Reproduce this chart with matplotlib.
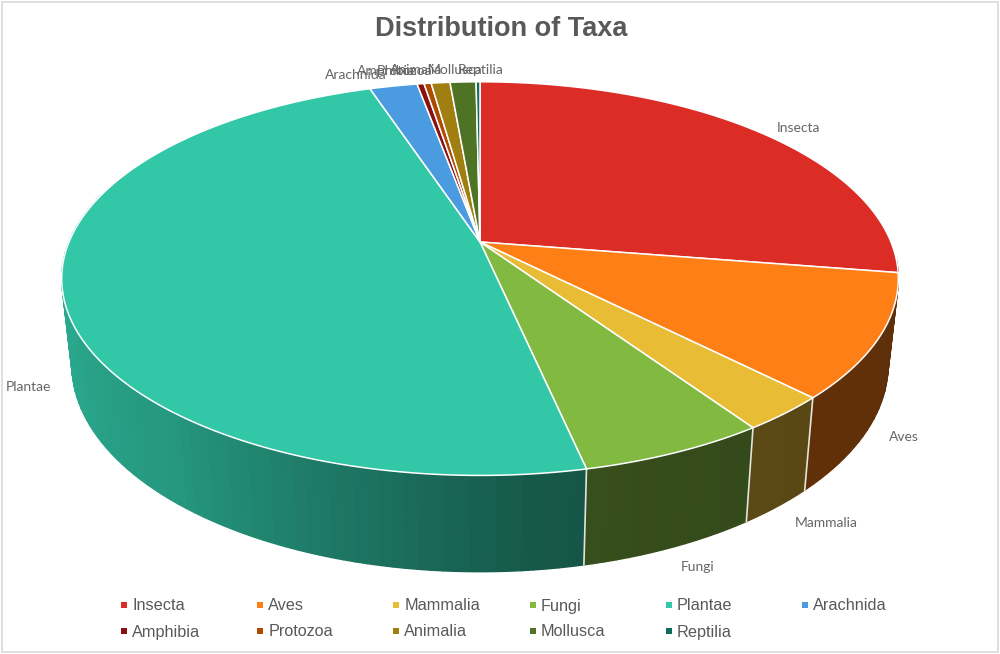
import numpy as np
import matplotlib
matplotlib.use("Agg")
import matplotlib.pyplot as plt
from matplotlib.patches import Rectangle

taxa = ["Insecta", "Aves", "Mammalia", "Fungi", "Plantae", "Arachnida",
        "Amphibia", "Protozoa", "Animalia", "Mollusca", "Reptilia"]
share = [27.5, 10.1, 2.9, 6.1, 48.3, 2.2, 0.32, 0.33, 0.87, 1.2, 0.18]
colors = ["#DC2C26", "#FF7F17", "#E8BC35", "#82BA41", "#31C7A7", "#4A9BE0",
          "#8B1010", "#B04A00", "#A07E10", "#4E7324", "#0E6D5A"]
label_xy = {"Insecta": (798, 127), "Aves": (904, 436), "Mammalia": (826, 522),
            "Fungi": (698, 566), "Plantae": (28, 386), "Arachnida": (356, 74),
            "Amphibia": (386, 70), "Protozoa": (405, 70), "Animalia": (416, 69),
            "Mollusca": (455, 69), "Reptilia": (481, 69)}
text_col = "#595959"


# angle is clockwise from the top of the disc, in degrees
def project(angle, a, b, cy, k=0.186, cx=480):
    t = np.radians(angle)
    u, v = np.sin(t), np.cos(t)
    w = 1 + k * v
    return cx + a * u / w, cy - b * v / w


def top(angle):
    return project(angle, 411, 190, 242)


def bottom(angle):
    return project(angle, 401, 200, 326)


def wall_shade(angle):
    return np.interp(angle, [100, 135, 165, 175, 200, 220, 250, 275],
                     [0.37, 0.38, 0.42, 0.45, 0.62, 0.76, 0.84, 0.85])


def shaded(col, f):
    return np.array(matplotlib.colors.to_rgb(col)) * f


fig = plt.figure(figsize=(10, 6.54), dpi=100)
ax = fig.add_axes([0, 0, 1, 1])
ax.set_xlim(0, 1000)
ax.set_ylim(654, 0)
ax.axis("off")
ax.add_patch(Rectangle((2, 2), 996, 650, fill=False, ec="#D9D9D9", lw=1.2))

edges = 360 * np.concatenate([[0], np.cumsum(share)]) / np.sum(share)

# side wall, only the part facing the viewer
for i in range(len(taxa)):
    a0, a1 = max(edges[i], 95), min(edges[i + 1], 285)
    if a1 <= a0:
        continue
    steps = np.arange(a0, a1 + 1.5, 1.5)
    steps[-1] = a1
    for s0, s1 in zip(steps[:-1], steps[1:]):
        tx0, ty0 = top(np.linspace(s0, s1, 4))
        bx0, by0 = bottom(np.linspace(s1, s0, 4))
        c = shaded(colors[i], wall_shade((s0 + s1) / 2))
        ax.fill(np.r_[tx0, bx0], np.r_[ty0, by0], fc=c, ec=c, lw=1.0, zorder=2)
    if 105 < edges[i + 1] < 250:
        tx, ty = top(edges[i + 1])
        bx, by = bottom(edges[i + 1])
        ax.plot([tx, bx], [ty, by], color="#E4E4DC", lw=1.2, zorder=3)

# top face
for i in range(len(taxa)):
    ang = np.linspace(edges[i], edges[i + 1], max(3, int(edges[i + 1] - edges[i]) * 2))
    x, y = top(ang)
    cx, cy = top(0.0)[0], 242
    ax.fill(np.r_[cx, x], np.r_[cy, y], fc=colors[i], ec="white", lw=1.1,
            joinstyle="round", zorder=4)

ax.text(501, 29, "Distribution of Taxa", ha="center", va="center", fontsize=19.5,
        fontweight="bold", family="Liberation Sans", color=text_col)

for name in taxa:
    lx, ly = label_xy[name]
    ax.text(lx, ly + 1, name, ha="center", va="center", fontsize=10,
            family="Lato", color="#666666", zorder=6)

# legend: two rows of six equal columns
for i, name in enumerate(taxa):
    col, row = i % 6, i // 6
    mx = 124 + col * 136.2
    my = 605 + row * 26
    ax.scatter([mx], [my], marker="s", s=22, color=colors[i], lw=0, zorder=6)
    ax.text(mx + 8, my + 5.5, name, ha="left", va="baseline", fontsize=11.7,
            family="Liberation Sans", color=text_col)

fig.savefig("out.png", dpi=100, facecolor="white")
